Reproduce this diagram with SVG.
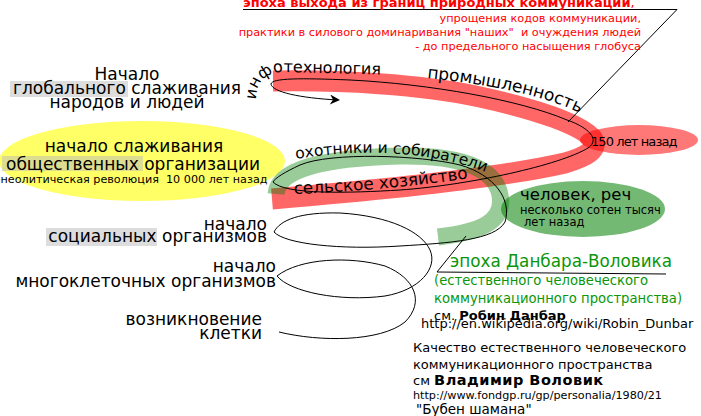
<svg xmlns="http://www.w3.org/2000/svg" width="701" height="416" viewBox="0 0 701 416">
<style>
text{font-family:"DejaVu Sans","Liberation Sans",sans-serif;fill:#000}
.lbl{font-size:17px}
.red{fill:#ff0000;font-size:11.3px}
.grn{fill:#0a960a}
.hl{fill:#bbbbbb;opacity:.5}
.thin{fill:none;stroke:#000;stroke-width:1}
</style>
<defs>
<marker id="arr" viewBox="0 0 10 10" refX="8" refY="5" markerUnits="userSpaceOnUse" markerWidth="15" markerHeight="10" orient="auto">
<path d="M0,0 L10,5 L0,10 L3,5 z" fill="#000"/>
</marker>
<path id="pInfo" d="M256,100 C256,84 264,74 280,72 L400,75"/>
<path id="pProm" d="M427,78 C480,84 540,92 586,116"/>
<path id="pOhot" d="M296,159 C350,150 420,148 486,172"/>
<path id="pSel" d="M294,194 C350,192 420,186 470,178"/>
</defs>

<g id="backgrounds">
<ellipse id="yellow-blob" cx="142" cy="161" rx="143" ry="40" fill="#ffff00" opacity=".6"/>
<rect class="hl" x="10" y="81" width="118" height="16"/>
<rect class="hl" x="2" y="156" width="141" height="15"/>
<rect class="hl" x="46" y="228" width="111" height="18"/>
<ellipse cx="639" cy="140" rx="59" ry="15" fill="#ff0000" opacity=".53"/>
<ellipse cx="583" cy="209" rx="82" ry="28" fill="#008000" opacity=".55"/>
<path d="M273,81 C340,80 420,84 480,97 C540,110 580,125 592,138 C600,150 585,157 565,163 C500,178 380,190 272,199" fill="none" stroke="#ff0000" stroke-width="21" opacity=".6"/>
<path d="M276,194 C278,170 320,158 400,156 C460,155 495,168 500,195 C505,222 480,232 438,237" fill="none" stroke="#008000" stroke-width="17" opacity=".4"/>
</g>

<g id="connectors">
<path class="thin" marker-end="url(#arr)" d="M279,332 C320,342 380,342 405,322 C425,302 415,278 385,266 C350,256 300,258 277,276 C290,292 340,302 385,296 C420,290 438,268 430,250 C422,232 390,216 340,213 C300,212 280,220 274,232 C285,244 340,250 400,246 C450,243 495,240 505,222 C512,200 495,175 460,165 C420,155 330,152 300,165 C285,172 275,178 273,182 C285,195 350,193 400,190 C470,185 560,165 588,148 C600,140 590,128 567,120 C520,100 430,84 350,80 C300,78 272,78 271,84 C272,92 300,98 338,100"/>
<path class="thin" d="M243,9.5 L677,9.5 L568,122" stroke="#333"/>
<path class="thin" d="M466,236 L437,272 L666,274" stroke="#444"/>
</g>

<g id="header">
<text x="243" y="7" style="font-size:13px"><tspan fill="#ff0000" font-weight="bold">эпоха выхода из границ природных коммуникаций</tspan><tspan fill="#ff0000">,</tspan></text>
<text class="red" x="641" y="22" text-anchor="end">упрощения кодов коммуникации,</text>
<text class="red" x="641" y="36" text-anchor="end" xml:space="preserve">практики в силового доминаривания "наших"  и очуждения людей</text>
<text class="red" x="641" y="50" text-anchor="end">- до предельного насыщения глобуса</text>
</g>

<g id="node-global">
<text class="lbl" x="127" y="80" text-anchor="middle">Начало</text>
<text class="lbl" x="127" y="94" text-anchor="middle">глобального слаживания</text>
<text class="lbl" x="127" y="108" text-anchor="middle">народов и людей</text>
</g>

<g id="node-obshch">
<text x="134" y="152" text-anchor="middle" style="font-size:17px">начало слаживания</text>
<text x="133" y="170" text-anchor="middle" style="font-size:17px">общественных организации</text>
<text x="134" y="183" text-anchor="middle" style="font-size:11.2px" xml:space="preserve">неолитическая революция  10 000 лет назад</text>
</g>

<g id="node-social">
<text class="lbl" x="267" y="230" text-anchor="end">начало</text>
<text class="lbl" x="267" y="242" text-anchor="end">социальных организмов</text>
</g>

<g id="node-multi">
<text class="lbl" x="276" y="272" text-anchor="end">начало</text>
<text class="lbl" x="276" y="287" text-anchor="end">многоклеточных организмов</text>
</g>

<g id="node-cell">
<text class="lbl" x="262" y="325" text-anchor="end">возникновение</text>
<text class="lbl" x="262" y="339" text-anchor="end">клетки</text>
</g>

<g id="curve-labels">
<text style="font-size:16px"><textPath href="#pInfo">инфотехнология</textPath></text>
<text class="lbl"><textPath href="#pProm">промышленность</textPath></text>
<text style="font-size:15.5px"><textPath href="#pOhot">охотники и собиратели</textPath></text>
<text style="font-size:16.8px"><textPath href="#pSel">сельское хозяйство</textPath></text>
</g>

<g id="node-150">
<text x="591" y="146" style="font-size:13px;letter-spacing:-0.9px">150 лет назад</text>
</g>

<g id="node-chelovek">
<text x="520" y="200" style="font-size:16.5px">человек, реч</text>
<text x="520" y="214" style="font-size:11.5px">несколько сотен тысяч</text>
<text x="524" y="226" style="font-size:11.5px">лет назад</text>
</g>

<g id="node-dunbar">
<text class="grn" x="450" y="267" style="font-size:16.8px">эпоха Данбара-Воловика</text>
<text class="grn" x="434" y="285" style="font-size:13.2px">(естественного человеческого</text>
<text class="grn" x="434" y="303" style="font-size:13.2px">коммуникационного пространства)</text>
<text x="434" y="320" style="font-size:13px">см. <tspan font-weight="bold">Робин Данбар</tspan></text>
<text x="421" y="328" style="font-size:13px">http://en.wikipedia.org/wiki/Robin_Dunbar</text>
</g>

<g id="node-volovik">
<text x="413" y="352" style="font-size:13px">Качество естественного человеческого</text>
<text x="413" y="369" style="font-size:13px">коммуникационного пространства</text>
<text x="413" y="385" style="font-size:13px">см <tspan font-weight="bold" style="font-size:14.5px;letter-spacing:0.5px">Владимир Воловик</tspan></text>
<text x="413" y="399" style="font-size:11.2px">http://www.fondgp.ru/gp/personalia/1980/21</text>
<text x="416" y="414" style="font-size:13.5px">"Бубен шамана"</text>
</g>
</svg>
